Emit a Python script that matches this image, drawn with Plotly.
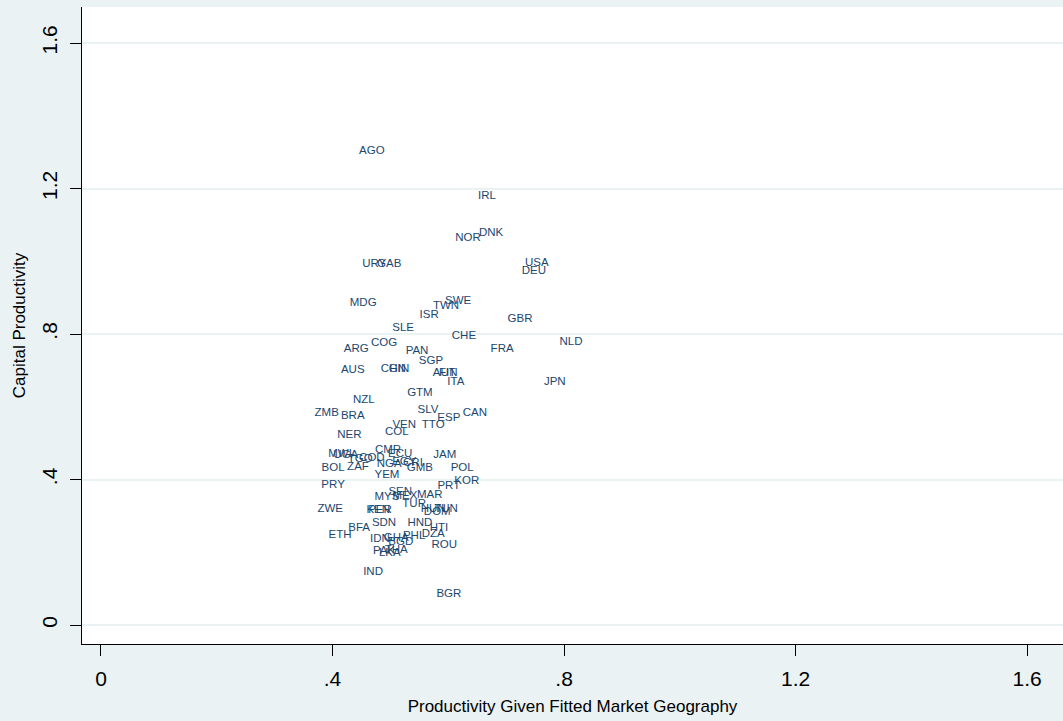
import plotly.graph_objects as go

# country codes with fitted-geography productivity (x) and capital productivity (y)
countries = ["AGO", "IRL", "NOR", "DNK", "USA", "DEU", "URY", "GAB", "MDG", "SWE",
             "TWN", "ISR", "GBR", "SLE", "CHE", "NLD", "FRA", "ARG", "COG", "PAN",
             "SGP", "AUS", "CHN", "GIN", "AUT", "FIN", "ITA", "JPN", "GTM", "NZL",
             "ZMB", "BRA", "SLV", "ESP", "CAN", "VEN", "TTO", "COL", "NER", "CMR",
             "ECU", "JAM", "MWI", "UGA", "TGO", "COD", "BOL", "ZAF", "NGA", "EGY",
             "CRI", "GMB", "POL", "YEM", "PRY", "PRT", "KOR", "MYS", "SEN", "MEX",
             "MAR", "TUR", "HUN", "DOM", "TUN", "ZWE", "KEN", "PER", "SDN", "HND",
             "HTI", "BFA", "ETH", "DZA", "PHL", "IDN", "GHA", "BGD", "ROU", "PAK",
             "THA", "LKA", "IND", "BGR"]

fitted_prod = [0.468, 0.667, 0.634, 0.674, 0.753, 0.748, 0.472, 0.498, 0.453, 0.617,
               0.596, 0.567, 0.724, 0.522, 0.627, 0.812, 0.693, 0.441, 0.489, 0.546,
               0.570, 0.435, 0.505, 0.515, 0.593, 0.600, 0.613, 0.784, 0.551, 0.454,
               0.390, 0.435, 0.565, 0.601, 0.646, 0.524, 0.574, 0.511, 0.429, 0.496,
               0.517, 0.594, 0.413, 0.423, 0.448, 0.468, 0.401, 0.444, 0.498, 0.524,
               0.539, 0.551, 0.624, 0.494, 0.401, 0.601, 0.632, 0.494, 0.517, 0.525,
               0.568, 0.541, 0.574, 0.581, 0.596, 0.396, 0.479, 0.482, 0.489, 0.551,
               0.584, 0.446, 0.413, 0.574, 0.541, 0.482, 0.510, 0.518, 0.593, 0.489,
               0.510, 0.499, 0.470, 0.601]

capital_prod = [1.303, 1.179, 1.064, 1.078, 0.995, 0.973, 0.992, 0.992, 0.885, 0.891,
                0.877, 0.852, 0.841, 0.817, 0.795, 0.778, 0.759, 0.759, 0.775, 0.753,
                0.726, 0.701, 0.704, 0.704, 0.693, 0.693, 0.668, 0.668, 0.638, 0.618,
                0.583, 0.575, 0.591, 0.569, 0.583, 0.550, 0.550, 0.531, 0.522, 0.481,
                0.470, 0.467, 0.470, 0.467, 0.456, 0.459, 0.432, 0.434, 0.443, 0.448,
                0.445, 0.432, 0.432, 0.412, 0.385, 0.382, 0.396, 0.352, 0.366, 0.355,
                0.357, 0.333, 0.319, 0.311, 0.319, 0.319, 0.316, 0.316, 0.280, 0.280,
                0.267, 0.267, 0.247, 0.250, 0.245, 0.236, 0.239, 0.228, 0.220, 0.203,
                0.206, 0.198, 0.146, 0.085]

tick_vals = [0, 0.4, 0.8, 1.2, 1.6]
tick_text = ["0", ".4", ".8", "1.2", "1.6"]

bg = "#eaf2f3"
navy = "#1a476f"

fig = go.Figure()
fig.add_trace(go.Scatter(
    x=fitted_prod, y=capital_prod, text=countries,
    mode="text", textposition="middle center",
    textfont=dict(family="Liberation Sans, Arial", size=11.5, color=navy),
    showlegend=False, hoverinfo="text",
))

axis_common = dict(
    tickmode="array", tickvals=tick_vals, ticktext=tick_text,
    ticks="outside", ticklen=11, tickcolor="black", tickwidth=1.3,
    showline=True, linecolor="black", linewidth=1.3,
    tickfont=dict(family="Liberation Sans, Arial", size=21, color="black"),
    zeroline=False,
)

fig.update_xaxes(range=[-0.0328, 1.662], showgrid=False, ticklabelstandoff=5,
                 title=dict(text="Productivity Given Fitted Market Geography",
                            font=dict(family="Liberation Sans, Arial", size=17, color="black"),
                            standoff=10),
                 **axis_common)
fig.update_yaxes(range=[-0.052, 1.699], showgrid=True, gridcolor=bg, gridwidth=2,
                 tickangle=-90, ticklabelstandoff=4,
                 title=dict(text="Capital Productivity",
                            font=dict(family="Liberation Sans, Arial", size=17, color="black"),
                            standoff=8),
                 **axis_common)

fig.update_layout(
    width=1063, height=721,
    margin=dict(l=82, r=0, t=7, b=77),
    paper_bgcolor=bg, plot_bgcolor="white",
)

# drop the browser's default page margin so the figure sits at the window origin
fig.write_html("out.html", config={"displayModeBar": False},
               post_script="document.body.style.margin='0';")
